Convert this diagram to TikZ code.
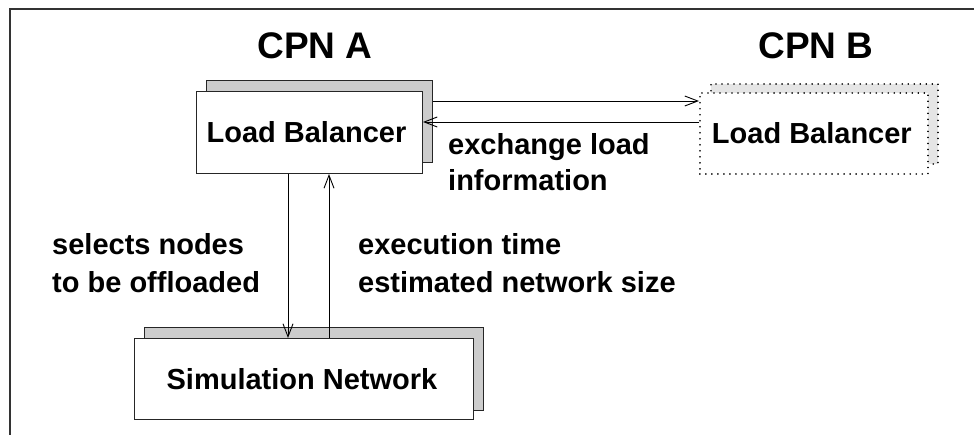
\documentclass[tikz,border=0pt]{standalone}
\usepackage{fontspec}
\setmainfont{Liberation Sans}
\usetikzlibrary{arrows.meta}
\begin{document}
\begin{tikzpicture}[x=1pt,y=-1pt,
  box/.style={draw=black!85, line width=1pt, fill=white, inner sep=0pt, anchor=north west},
  shadowbox/.style={draw=black!85, line width=1pt, fill=black!20, inner sep=0pt, anchor=north west},
  dotbox/.style={draw=black, line width=1.7pt, line cap=round, dash pattern=on 0.01pt off 6pt, fill=white, inner sep=0pt, anchor=north west},
  dotshadow/.style={draw=black, line width=1.7pt, line cap=round, dash pattern=on 0.01pt off 6pt, fill=black!10, inner sep=0pt, anchor=north west},
  lbl/.style={font=\fontsize{29}{34}\selectfont\bfseries, inner sep=0pt},
  title/.style={font=\fontsize{37}{42}\selectfont\bfseries, inner sep=0pt},
  arr/.style={line width=0.9pt, -{Straight Barb[length=13pt,width=10pt,line width=0.9pt]}}
]
\useasboundingbox (0,0) rectangle (974,435);
\fill[white] (0,0) rectangle (974,435);
% frame
\draw[line width=2pt, draw=black!80] (10,435) -- (10,9) -- (974,9);

% titles
\node[title] (cpna) at (315,46) {CPN A};
\node[title] (cpnb) at (816,46) {CPN B};

% CPN A load balancer
\node[shadowbox, minimum width=226pt, minimum height=82pt] (lbAs) at (206,80) {};
\node[box, minimum width=226pt, minimum height=82pt] (lbAf) at (196,91) {};
\node[lbl] (lbAt) at ([xshift=-3pt]lbAf.center) {Load Balancer};

% CPN B load balancer
\node[dotshadow, minimum width=227pt, minimum height=80pt] (lbBs) at (710,83) {};
\node[dotbox, minimum width=228pt, minimum height=81pt] (lbBf) at (699,92) {};
\node[lbl] (lbBt) at ([xshift=-2pt]lbBf.center) {Load Balancer};

% Simulation network
\node[shadowbox, minimum width=339pt, minimum height=83pt] (sns) at (144,327) {};
\node[box, minimum width=339pt, minimum height=81pt] (snf) at (134,338) {};
\node[lbl] (snt) at ([xshift=-2pt]snf.center) {Simulation Network};

% connectors
\coordinate (yTop) at (0,101);
\coordinate (yBot) at (0,122);
\coordinate (xDown) at (288,0);
\coordinate (xUp) at (329,0);
\draw[arr] (lbAs.east |- yTop) -- (lbBf.west |- yTop);
\draw[arr] (lbBf.west |- yBot) -- (lbAf.east |- yBot);
\draw[arr] (xDown |- lbAf.south) -- (xDown |- snf.north);
\draw[arr] (xUp |- snf.north) -- (xUp |- lbAf.south);

% labels
\node[lbl, anchor=base west] (ex1) at (448,155) {exchange load};
\node[lbl, anchor=base west] (ex2) at (448,191) {information};
\node[lbl, anchor=base west] (sel1) at (52,255) {selects nodes};
\node[lbl, anchor=base west] (sel2) at (52,293) {to be offloaded};
\node[lbl, anchor=base west] (et1) at (358,255) {execution time};
\node[lbl, anchor=base west] (et2) at (358,293) {estimated network size};
\end{tikzpicture}
\end{document}
